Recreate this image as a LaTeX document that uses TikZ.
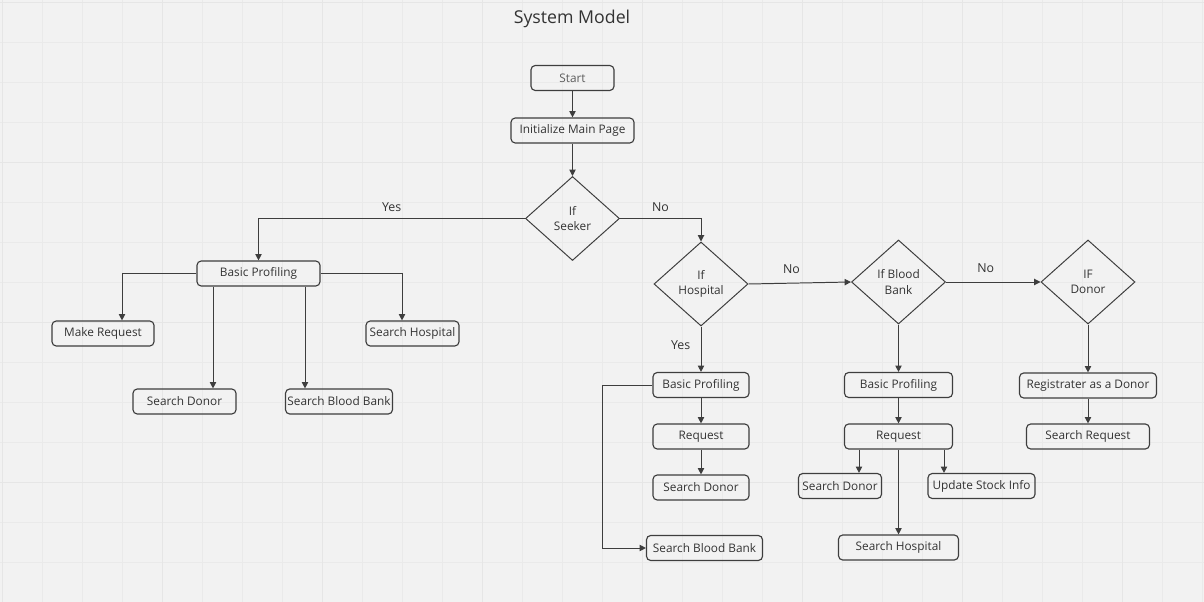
\documentclass[tikz,border=0pt]{standalone}
\usepackage{fontspec}
\setmainfont{Open Sans}
\usetikzlibrary{shapes.geometric, arrows.meta}

\definecolor{bgcol}{HTML}{F2F2F2}
\definecolor{gridcol}{HTML}{EAEAEA}
\definecolor{majorcol}{HTML}{E6E6E6}
\definecolor{linecol}{HTML}{3E3E3E}
\definecolor{txtcol}{HTML}{333333}

\tikzset{
	stepbox/.style={draw=linecol, line width=0.8pt, rounded corners=3pt, inner sep=1pt,
		minimum height=0.625cm, text=txtcol, font=\fontsize{8.4}{10}\selectfont},
	boxw/.style={minimum width=#1*0.025cm},
	decision/.style={draw=linecol, line width=0.7pt, diamond, inner sep=0pt, align=center,
		minimum width=2.35cm, minimum height=2.1cm, text=txtcol, font=\fontsize{8.4}{11}\selectfont},
	arr/.style={draw=linecol, line width=0.7pt, -{Triangle[length=4.5pt,width=4.5pt]}},
	lbl/.style={text=txtcol, font=\fontsize{8.8}{10}\selectfont}
}

\begin{document}
\begin{tikzpicture}[x=0.025cm, y=-0.025cm]

	%background and grid
	\useasboundingbox (0,0) rectangle (1204,602);
	\fill[bgcol] (0,0) rectangle (1204,602);
	\foreach \i in {0,...,30}
		\draw[gridcol, line width=0.5pt] ({\i*40+2},0) -- ({\i*40+2},602);
	\foreach \j in {0,...,15}
		\draw[gridcol, line width=0.5pt] (0,{\j*40+2}) -- (1204,{\j*40+2});
	\foreach \i in {0,4,...,28}
		\draw[majorcol, line width=0.7pt] ({\i*40+2},0) -- ({\i*40+2},602);
	\foreach \j in {0,4,...,12}
		\draw[majorcol, line width=0.7pt] (0,{\j*40+2}) -- (1204,{\j*40+2});

	\node [text=txtcol, font=\fontsize{12.6}{15}\selectfont] (title) at (572,18.5) {System Model};

%main column
	\node [stepbox, boxw=83, text=txtcol!80] (start) at (572.5,78) {Start};
	\node [stepbox, boxw=123] (init) at (572.5,130.5) {Initialize Main Page};
	\node [decision] (seeker) at (572.5,218.5) {If\\Seeker};

	\draw [arr] (start) -- (init);
	\draw [arr] (init) -- (seeker);

%seeker branch
	\node [stepbox, boxw=123] (bp1) at (258.5,273.5) {Basic Profiling};
	\node [stepbox, boxw=102] (mreq) at (103,333.5) {Make Request};
	\node [stepbox, boxw=93] (shosp1) at (412.5,333.5) {Search Hospital};
	\node [stepbox, boxw=103] (sdonor1) at (184.5,401.5) {Search Donor};
	\node [stepbox, boxw=107] (sbb1) at (339,401.5) {Search Blood Bank};

	\draw [arr] (seeker.west) -| node [lbl, above=1pt, pos=0.25] {Yes} (bp1.north);
	\coordinate (mrx) at (122,0);
	\coordinate (shx) at (402,0);
	\coordinate (sdx) at (213,0);
	\coordinate (sbx) at (305,0);
	\draw [arr] (bp1.west) -| (mreq.north -| mrx);
	\draw [arr] (bp1.east) -| (shosp1.north -| shx);
	\draw [arr] (bp1.south -| sdx) -- (sdonor1.north -| sdx);
	\draw [arr] (bp1.south -| sbx) -- (sbb1.north -| sbx);

%hospital branch
	\node [decision] (hosp) at (701,284) {If\\Hospital};
	\node [stepbox, boxw=96] (bp2) at (701,385) {Basic Profiling};
	\node [stepbox, boxw=96] (req2) at (701,436.5) {Request};
	\node [stepbox, boxw=96] (sdonor2) at (701,487.5) {Search Donor};
	\node [stepbox, boxw=116] (sbb2) at (704.5,548) {Search Blood Bank};

	\draw [arr] (seeker.east) -| node [lbl, above=1pt, pos=0.25] {No} (hosp.north);
	\draw [arr] (hosp.south) -- node [lbl, left=4pt, pos=0.4] {Yes} (bp2.north);
	\draw [arr] (bp2) -- (req2);
	\draw [arr] (req2) -- (sdonor2);
	\coordinate (hx) at (602,0);
	\draw [arr] (bp2.west) -- (bp2.west -| hx) |- (sbb2.west);

%blood bank branch
	\node [decision] (blood) at (898.5,282) {If Blood\\Bank};
	\node [stepbox, boxw=108] (bp3) at (898.5,385) {Basic Profiling};
	\node [stepbox, boxw=108] (req3) at (898.5,436.5) {Request};
	\node [stepbox, boxw=83] (sdonor3) at (840,486) {Search Donor};
	\node [stepbox, boxw=107] (stock) at (981.5,486) {Update Stock Info};
	\node [stepbox, boxw=120] (shosp3) at (898.5,547.5) {Search Hospital};

	\draw [arr] (hosp.east) -- node [lbl, above=3pt, pos=0.42] {No} (blood.west);
	\draw [arr] (blood.south) -- (bp3.north);
	\draw [arr] (bp3) -- (req3);
	\draw [arr] (req3.south) -- (shosp3.north);
	\coordinate (bsx) at (859,0);
	\coordinate (bux) at (944,0);
	\draw [arr] (req3.south -| bsx) -- (sdonor3.north -| bsx);
	\draw [arr] (req3.south -| bux) -- (stock.north -| bux);

%donor branch
	\node [decision] (donor) at (1088,282) {IF\\Donor};
	\node [stepbox, boxw=137] (reg) at (1088,385.5) {Registrater as a Donor};
	\node [stepbox, boxw=123] (sreq) at (1088,436.5) {Search Request};

	\draw [arr] (blood.east) -- node [lbl, above=3pt, pos=0.42] {No} (donor.west);
	\draw [arr] (donor.south) -- (reg.north);
	\draw [arr] (reg) -- (sreq);

\end{tikzpicture}
\end{document}
